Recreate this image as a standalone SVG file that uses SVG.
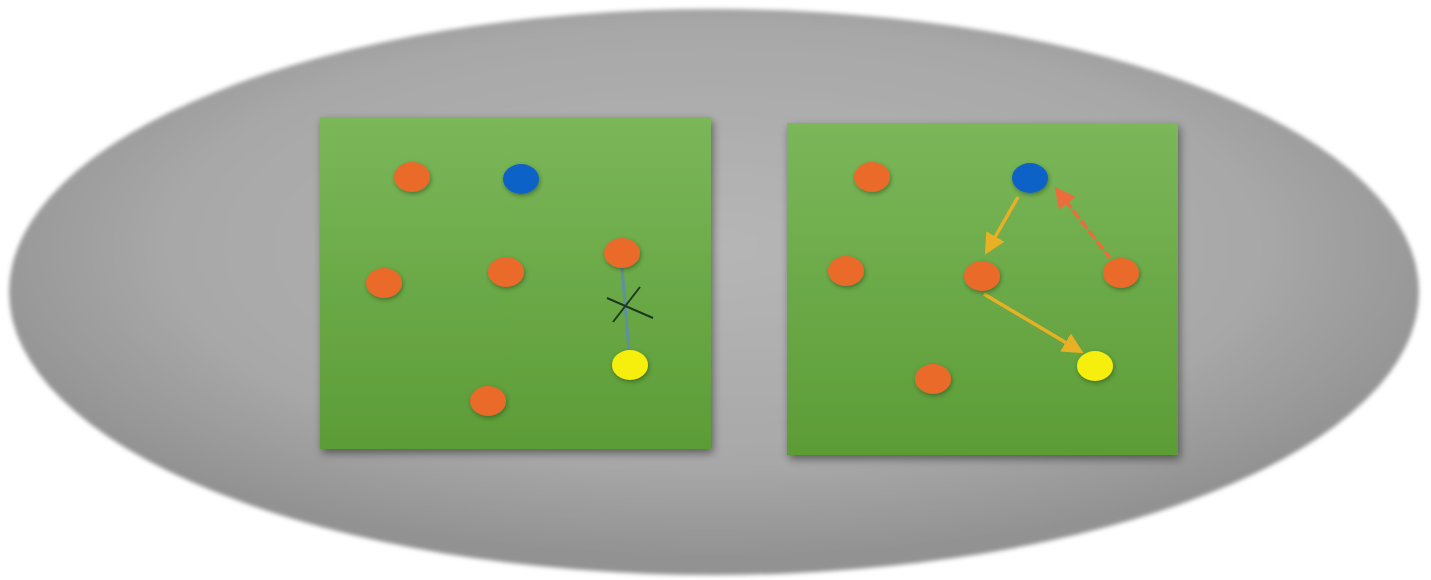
<svg xmlns="http://www.w3.org/2000/svg" width="1431" height="580" viewBox="0 0 1431 580">
  <defs>
    <radialGradient id="bg" cx="0.5" cy="0.42" r="0.55">
      <stop offset="0" stop-color="#b6b6b6"/>
      <stop offset="0.7" stop-color="#a8a8a8"/>
      <stop offset="1" stop-color="#929292"/>
    </radialGradient>
    <linearGradient id="green" x1="0" y1="0" x2="0" y2="1">
      <stop offset="0" stop-color="#7bb75a"/>
      <stop offset="1" stop-color="#5c9c36"/>
    </linearGradient>
    <filter id="soft" x="-5%" y="-5%" width="110%" height="110%">
      <feGaussianBlur stdDeviation="2"/>
    </filter>
    <filter id="shadow" x="-10%" y="-10%" width="125%" height="125%">
      <feDropShadow dx="2" dy="4" stdDeviation="4" flood-color="#000" flood-opacity="0.45"/>
    </filter>
    <filter id="dshadow" x="-40%" y="-40%" width="180%" height="180%">
      <feDropShadow dx="1" dy="2" stdDeviation="2" flood-color="#1f3d10" flood-opacity="0.5"/>
    </filter>
    <marker id="ahY" viewBox="0 0 10 10" refX="8" refY="5" markerWidth="6" markerHeight="6" orient="auto-start-reverse">
      <path d="M0,0 L10,5 L0,10 z" fill="#e8b024"/>
    </marker>
    <marker id="ahR" viewBox="0 0 10 10" refX="8" refY="5" markerWidth="6" markerHeight="6" orient="auto-start-reverse">
      <path d="M0,0 L10,5 L0,10 z" fill="#ea6d3c"/>
    </marker>
  </defs>
  <style>
    .panel { fill: url(#green); filter: url(#shadow); }
    .dot { filter: url(#dshadow); }
    .o { fill: #ea6a2c; }
    .b { fill: #0a62c8; }
    .y { fill: #f6ee0a; }
    .ay { stroke: #e8b024; stroke-width: 3.5; fill: none; }
    .ar { stroke: #ea6d3c; stroke-width: 3.5; fill: none; stroke-dasharray: 10 3; }
  </style>
  <ellipse id="background" cx="714" cy="292" rx="705" ry="283" fill="url(#bg)" filter="url(#soft)"/>

  <g id="panel-left">
    <rect class="panel" x="320" y="117" width="391" height="332"/>
  </g>
  <g id="panel-right">
    <rect class="panel" x="787" y="123" width="391" height="332"/>
  </g>

  <g id="connectors">
    <line x1="622" y1="268" x2="629" y2="350" stroke="#5f8fa0" stroke-width="3"/>
    <line x1="607" y1="298" x2="653" y2="318" stroke="#1d3a1c" stroke-width="2"/>
    <line x1="640" y1="287" x2="613" y2="322" stroke="#1d3a1c" stroke-width="2"/>
    <line class="ay" x1="1018" y1="197" x2="987" y2="251" marker-end="url(#ahY)"/>
    <line class="ar" x1="1057" y1="190" x2="1110" y2="258" marker-start="url(#ahR)"/>
    <line class="ay" x1="984" y1="294" x2="1080" y2="351" marker-end="url(#ahY)"/>
  </g>

  <g id="left-nodes">
    <g id="l1" class="dot"><ellipse class="o" cx="412" cy="177" rx="18" ry="15"/></g>
    <g id="l2" class="dot"><ellipse class="b" cx="521" cy="179" rx="18" ry="15"/></g>
    <g id="l3" class="dot"><ellipse class="o" cx="384" cy="283" rx="18" ry="15"/></g>
    <g id="l4" class="dot"><ellipse class="o" cx="506" cy="272" rx="18" ry="15"/></g>
    <g id="l5" class="dot"><ellipse class="o" cx="622" cy="253" rx="18" ry="15"/></g>
    <g id="l6" class="dot"><ellipse class="y" cx="630" cy="365" rx="18" ry="15"/></g>
    <g id="l7" class="dot"><ellipse class="o" cx="488" cy="401" rx="18" ry="15"/></g>
  </g>
  <g id="right-nodes">
    <g id="r1" class="dot"><ellipse class="o" cx="872" cy="177" rx="18" ry="15"/></g>
    <g id="r2" class="dot"><ellipse class="b" cx="1030" cy="178" rx="18" ry="15"/></g>
    <g id="r3" class="dot"><ellipse class="o" cx="846" cy="271" rx="18" ry="15"/></g>
    <g id="r4" class="dot"><ellipse class="o" cx="982" cy="276" rx="18" ry="15"/></g>
    <g id="r5" class="dot"><ellipse class="o" cx="1121" cy="273" rx="18" ry="15"/></g>
    <g id="r6" class="dot"><ellipse class="o" cx="933" cy="379" rx="18" ry="15"/></g>
    <g id="r7" class="dot"><ellipse class="y" cx="1095" cy="366" rx="18" ry="15"/></g>
  </g>
</svg>
